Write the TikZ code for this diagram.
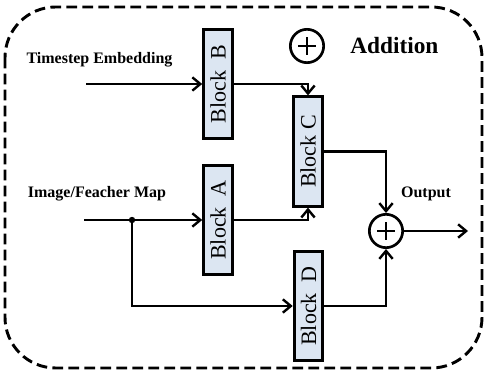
\documentclass[tikz,border=0pt]{standalone}
\usepackage{fontspec}
\setmainfont{Liberation Serif}
\usetikzlibrary{arrows.meta}

\definecolor{blockblue}{RGB}{220,230,242}

\tikzset{
  block/.style={draw, line width=2.2pt, fill=blockblue, rotate=90, minimum width=82pt, minimum height=21.5pt, inner sep=0pt, font=\fontsize{16.5}{16.5}\selectfont},
  addnode/.style={draw, circle, line width=2pt, minimum size=25pt, inner sep=0pt},
  arr/.style={line width=2.2pt, -{Straight Barb[length=6pt,width=10pt,line width=1.8pt]}},
  lbl/.style={font=\fontsize{12}{12}\selectfont\bfseries, inner sep=0.75pt}
}

\begin{document}
\begin{tikzpicture}[x=0.75pt,y=0.75pt,yscale=-1,xscale=1]
\useasboundingbox (0,0) rectangle (486,374);

%Shape: Rounded Rectangle (frame)
\draw [line width=2.2pt, dash pattern={on 8pt off 4pt}, rounded corners=38pt] (5,7) rectangle (482,368);

% Blocks
\node [block] (blockB) at (218,84) {Block\ \ B};
\node [block] (blockA) at (218,220) {Block\ \ A};
\node [block] (blockC) at (308,151.5) {Block C};
\node [block] (blockD) at (308.5,306) {Block\ \ D};

% Addition
\node [addnode] (sum) at (386,231) {};
\node [addnode] (legend) at (307,46) {};
\foreach \n in {sum,legend}{
  \draw [line width=1.4pt] ([xshift=-6.5pt]\n.center) -- ([xshift=6.5pt]\n.center);
  \draw [line width=1.4pt] ([yshift=-6.5pt]\n.center) -- ([yshift=6.5pt]\n.center);
}
\node [anchor=west, inner sep=0.75pt, font=\fontsize{17.5}{17.5}\selectfont\bfseries] (legendtxt) at (349,46) {Addition};

% Inputs
\coordinate (tin) at (86,84);
\coordinate (iin) at (84,220);
\coordinate (split) at (132,220);
\coordinate (out) at (468,231);

% Text Node
\node [lbl] (tlabel) at (99.5,60) {Timestep Embedding};
% Text Node
\node [lbl] (ilabel) at (97,194) {Image/Feacher Map};
% Text Node
\node [lbl] (olabel) at (426,194) {Output};

% Connectors
\draw [arr] (tin) -- (blockB.north);
\draw [arr] (iin) -- (blockA.north);
\fill (split) circle (3.2);
\draw [arr] (split) |- (blockD.north);
\draw [arr] (blockB.south) -| (blockC.east);
\draw [arr] (blockA.south) -| (blockC.west);
\draw [arr] (blockC.south) -| (sum.north);
\draw [arr] (blockD.south) -| (sum.south);
\draw [arr] (sum.east) -- (out);
\end{tikzpicture}
\end{document}
